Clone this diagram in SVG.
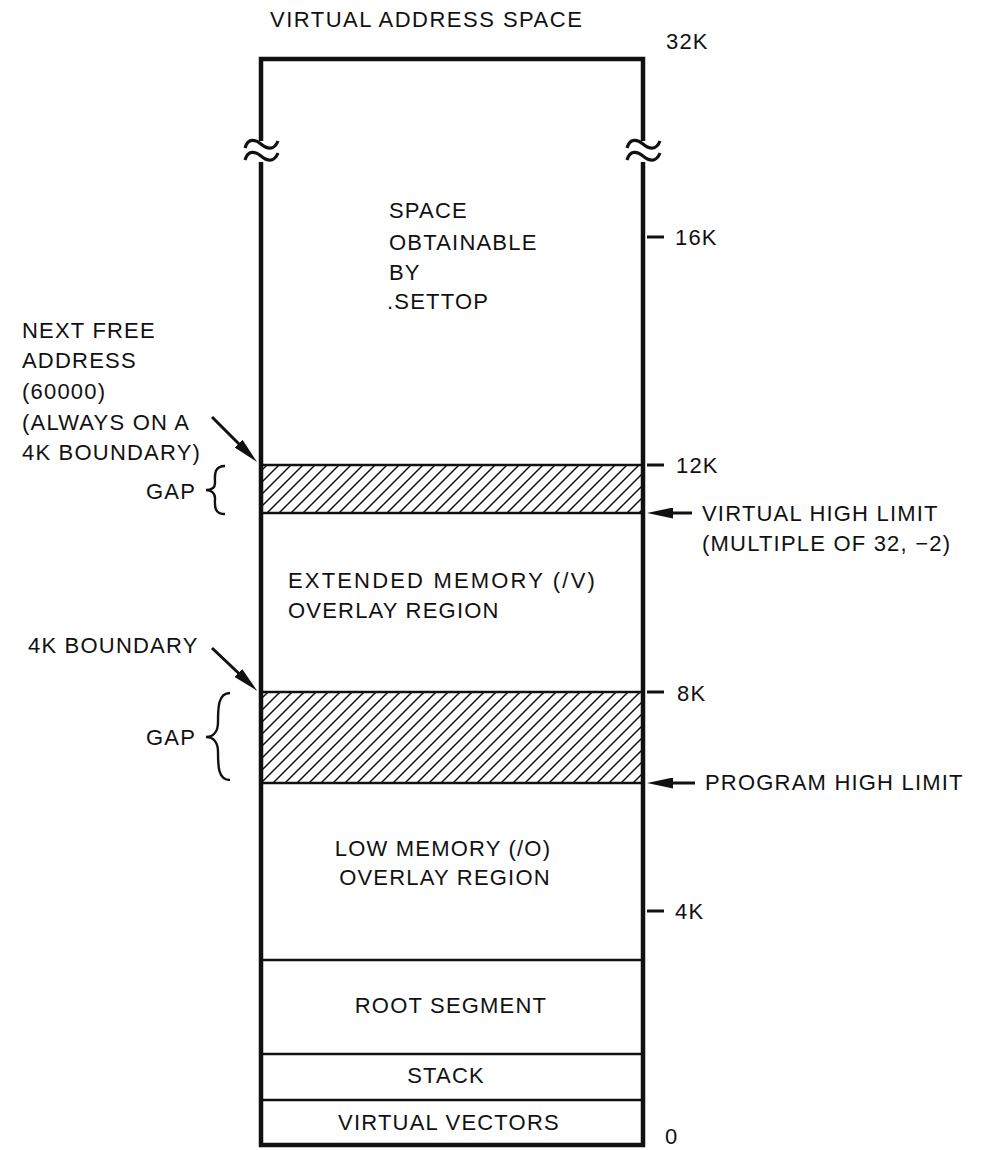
<svg xmlns="http://www.w3.org/2000/svg" width="981" height="1150" viewBox="0 0 981 1150">
<style>
text{font-family:"Liberation Sans",Arial,sans-serif;font-size:22px;fill:#111;letter-spacing:1.2px}
.mid{text-anchor:middle}
.frame{fill:none;stroke:#111;stroke-width:4.5}
.div{stroke:#111;stroke-width:2.4;fill:none}
.tick{stroke:#111;stroke-width:3}
.ptr{stroke:#111;stroke-width:3;fill:none}
.brace{stroke:#111;stroke-width:2.4;fill:none}
.brk{stroke:#111;stroke-width:3.2;fill:none}
</style>
<defs>
<pattern id="hatch" patternUnits="userSpaceOnUse" width="12" height="12">
<path d="M-2,2 L2,-2 M0,12 L12,0 M10,14 L14,10" stroke="#111" stroke-width="1.5"/>
</pattern>
<marker id="ah" viewBox="0 0 26 11" refX="16" refY="5.5" markerWidth="26" markerHeight="11" markerUnits="userSpaceOnUse" orient="auto">
<path d="M0,0 L26,5.5 L0,11 Z" fill="#111"/>
</marker>
</defs>

<text id="title" x="270" y="27" textLength="313" lengthAdjust="spacing">VIRTUAL ADDRESS SPACE</text>

<g id="memory-column">
<rect id="gap-high" x="262" y="465" width="381" height="48" fill="url(#hatch)"/>
<rect id="gap-low" x="262" y="692" width="381" height="91" fill="url(#hatch)"/>
<path class="frame" d="M261,141 L261,59 L643,59 L643,141"/>
<path class="frame" d="M261,162 L261,1145 L643,1145 L643,162"/>
<path class="brk" d="M245,148 C248,138 255,139 261,144 C267,149 274,151 278,141"/>
<path class="brk" d="M245,160 C248,150 255,151 261,156 C267,161 274,163 278,153"/>
<path class="brk" d="M627,148 C630,138 637,139 643,144 C649,149 656,151 660,141"/>
<path class="brk" d="M627,160 C630,150 637,151 643,156 C649,161 656,163 660,153"/>
<line class="div" x1="261" y1="465" x2="643" y2="465"/>
<line class="div" x1="261" y1="513" x2="643" y2="513"/>
<line class="div" x1="261" y1="692" x2="643" y2="692"/>
<line class="div" x1="261" y1="783" x2="643" y2="783"/>
<line class="div" x1="261" y1="960" x2="643" y2="960"/>
<line class="div" x1="261" y1="1054" x2="643" y2="1054"/>
<line class="div" x1="261" y1="1100" x2="643" y2="1100"/>
</g>

<g id="settop-region">
<text x="389" y="218">SPACE</text>
<text x="389" y="250">OBTAINABLE</text>
<text x="389" y="280">BY</text>
<text x="387" y="309">.SETTOP</text>
</g>
<g id="extended-region">
<text x="288" y="588" textLength="308" lengthAdjust="spacing">EXTENDED MEMORY (/V)</text>
<text x="288" y="618">OVERLAY REGION</text>
</g>
<g id="low-region">
<text class="mid" x="443" y="856">LOW MEMORY (/O)</text>
<text class="mid" x="445" y="885">OVERLAY REGION</text>
</g>
<g id="root-segment"><text class="mid" x="451" y="1013">ROOT SEGMENT</text></g>
<g id="stack"><text class="mid" x="446" y="1083">STACK</text></g>
<g id="virtual-vectors"><text class="mid" x="449" y="1130">VIRTUAL VECTORS</text></g>

<g id="scale">
<text x="666" y="49">32K</text>
<line class="tick" x1="647" y1="237" x2="664" y2="237"/><text x="675" y="245">16K</text>
<line class="tick" x1="647" y1="465" x2="664" y2="465"/><text x="676" y="473">12K</text>
<line class="tick" x1="647" y1="692" x2="664" y2="692"/><text x="677" y="701">8K</text>
<line class="tick" x1="647" y1="911" x2="664" y2="911"/><text x="675" y="919">4K</text>
<text x="665" y="1144">0</text>
</g>

<g id="next-free-label">
<text x="22" y="338">NEXT FREE</text>
<text x="22" y="368">ADDRESS</text>
<text x="22" y="399">(60000)</text>
<text x="22" y="430">(ALWAYS ON A</text>
<text x="22" y="460">4K BOUNDARY)</text>
</g>
<g id="boundary-label"><text x="28" y="653">4K BOUNDARY</text></g>
<g id="gap-labels">
<text x="146" y="499">GAP</text>
<text x="146" y="745">GAP</text>
<path class="brace" d="M225,466 C213,466 215,477 215,483 C215,488 211,490 206,490 C211,490 215,493 215,498 C215,504 213,514 225,514"/>
<path class="brace" d="M230,693 C218,693 218,708 218,722 C218,731 214,737 206,737 C214,737 218,743 218,752 C218,766 218,780 230,780"/>
</g>
<g id="virtual-high-label">
<text x="702" y="521">VIRTUAL HIGH LIMIT</text>
<text x="702" y="551">(MULTIPLE OF 32, −2)</text>
</g>
<g id="program-high-label"><text x="705" y="790">PROGRAM HIGH LIMIT</text></g>

<g id="connectors">
<line class="ptr" x1="212" y1="417" x2="250" y2="455" marker-end="url(#ah)"/>
<line class="ptr" x1="212" y1="648" x2="250" y2="684" marker-end="url(#ah)"/>
<line class="ptr" x1="692" y1="513" x2="657" y2="513" marker-end="url(#ah)"/>
<line class="ptr" x1="695" y1="783" x2="657" y2="783" marker-end="url(#ah)"/>
</g>
</svg>
